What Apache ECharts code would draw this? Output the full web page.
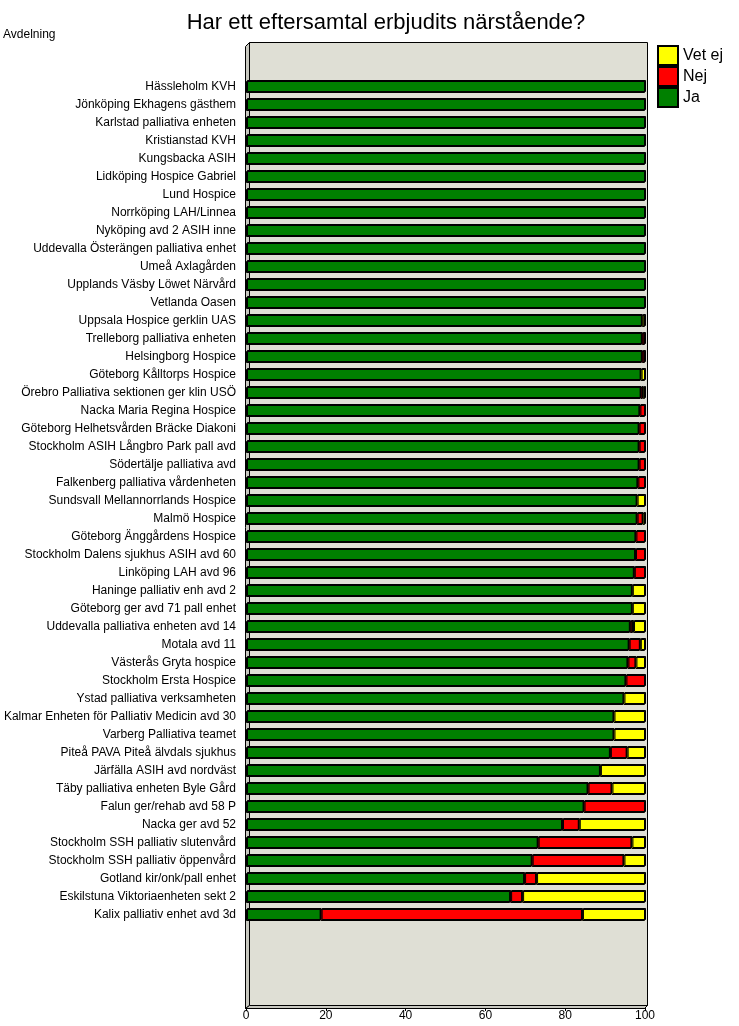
<!DOCTYPE html>
<html><head><meta charset="utf-8">
<script src="https://cdn.jsdelivr.net/npm/echarts@6/dist/echarts.min.js"></script>
<style>html,body{margin:0;padding:0;background:#fff}#c{width:739px;height:1026px}</style>
</head><body><div id="c"></div>
<script>
const categories = [
"Hässleholm KVH","Jönköping Ekhagens gästhem","Karlstad palliativa enheten","Kristianstad KVH",
"Kungsbacka ASIH","Lidköping Hospice Gabriel","Lund Hospice","Norrköping LAH/Linnea",
"Nyköping avd 2 ASIH inne","Uddevalla Österängen palliativa enhet","Umeå Axlagården",
"Upplands Väsby Löwet Närvård","Vetlanda Oasen","Uppsala Hospice gerklin UAS",
"Trelleborg palliativa enheten","Helsingborg Hospice","Göteborg Kålltorps Hospice",
"Örebro Palliativa sektionen ger klin USÖ","Nacka Maria Regina Hospice",
"Göteborg Helhetsvården Bräcke Diakoni","Stockholm ASIH Långbro Park pall avd",
"Södertälje palliativa avd","Falkenberg palliativa vårdenheten","Sundsvall Mellannorrlands Hospice",
"Malmö Hospice","Göteborg Änggårdens Hospice","Stockholm Dalens sjukhus ASIH avd 60",
"Linköping LAH avd 96","Haninge palliativ enh avd 2","Göteborg ger avd 71 pall enhet",
"Uddevalla palliativa enheten avd 14","Motala avd 11","Västerås Gryta hospice",
"Stockholm Ersta Hospice","Ystad palliativa verksamheten","Kalmar Enheten för Palliativ Medicin avd 30",
"Varberg Palliativa teamet","Piteå PAVA Piteå älvdals sjukhus","Järfälla ASIH avd nordväst",
"Täby palliativa enheten Byle Gård","Falun ger/rehab avd 58 P","Nacka ger avd 52",
"Stockholm SSH palliativ slutenvård","Stockholm SSH palliativ öppenvård","Gotland kir/onk/pall enhet",
"Eskilstuna Viktoriaenheten sekt 2","Kalix palliativ enhet avd 3d"];
const ja = [100,100,100,100,100,100,100,100,100,100,100,100,100,
99.2,99.2,99.2,98.9,98.9,98.6,98.4,98.4,98.4,98.1,97.9,97.9,97.6,97.5,97.2,96.7,96.7,96.2,95.9,95.6,95.1,94.6,
92.1,92.1,91.2,88.7,85.6,84.6,79.2,73.1,71.6,69.7,66.2,18.7];
const nej = [0,0,0,0,0,0,0,0,0,0,0,0,0,
0,0.8,0.8,0,0.55,1.4,1.6,1.6,1.6,1.9,0,1.5,2.4,2.5,2.8,0,0,0.8,2.8,2.0,4.9,0,
0,0,4.2,0,6.0,15.4,4.2,23.5,23.0,3.0,3.0,65.5];
const vetej = [0,0,0,0,0,0,0,0,0,0,0,0,0,
0.8,0,0,1.1,0.55,0,0,0,0,0,2.1,0.6,0,0,0,3.3,3.3,3.0,1.3,2.4,0,5.4,
7.9,7.9,4.6,11.3,8.4,0,16.6,3.4,5.4,27.3,30.8,15.8];
const xTicks = [0,20,40,60,80,100];
const seriesNames = ["Ja","Nej","Vet ej"];
const seriesColors = ["#008000","#ff0000","#ffff00"];

const chart = echarts.init(document.getElementById('c'));
const F = "'Liberation Sans', Arial, sans-serif";
const mk = (name, arr, color) => ({
  name, type: 'bar', stack: 'a', xAxisIndex: 0, yAxisIndex: 0,
  data: arr.map(v => v === 0 ? '-' : v),
  barWidth: 12,
  itemStyle: {color, borderColor: '#000', borderWidth: 1, shadowColor: '#000', shadowOffsetY: -1, shadowOffsetX: 1, shadowBlur: 0},
  emphasis: {disabled: true}, z: 5
});
chart.setOption({
  animation: false,
  textStyle: {fontFamily: F},
  title: {text: 'Har ett eftersamtal erbjudits närstående?', left: 381, textAlign: 'center', top: 7,
    textStyle: {fontFamily: F, fontSize: 22, fontWeight: 'normal', color: '#000'}},
  legend: {data: ['Vet ej','Nej','Ja'], orient: 'vertical', left: 657, top: 45, itemGap: 0, padding: 0,
    itemWidth: 20, itemHeight: 19, icon: 'rect', selectedMode: false,
    textStyle: {fontFamily: F, fontSize: 16, lineHeight: 20, color: '#000', padding: [0,0,0,0]}},
  graphic: [
    {type: 'text', left: 3, top: 29, z: 0, style: {text: 'Avdelning', font: "12px 'Liberation Sans', Arial", fill: '#000'}},
    {type: 'rect', z: -10, shape: {x: 249.5, y: 42.5, width: 398, height: 963}, style: {fill: '#dfdfd5', stroke: '#000', lineWidth: 1}},
    {type: 'polygon', z: -9, shape: {points: [[245.5,46.5],[249.5,42.5],[249.5,1005.5],[245.5,1008.5]]}, style: {fill: '#c8c8c0', stroke: '#000', lineWidth: 1}},
    {type: 'polygon', z: -9, shape: {points: [[245.5,1008.5],[249.5,1005.5],[647.5,1005.5],[644.5,1008.5]]}, style: {fill: '#c8c8c0', stroke: '#000', lineWidth: 1}}
  ],
  grid: [
    {left: 246, right: 94, top: 78, height: 846, containLabel: false},
    {left: 246, right: 94, top: 43, bottom: 18, containLabel: false}
  ],
  xAxis: [
    {type: 'value', gridIndex: 0, min: 0, max: 100, show: false},
    {type: 'value', gridIndex: 1, min: 0, max: 100, interval: 20,
      axisLine: {show: true, lineStyle: {color: '#000', width: 1}},
      axisTick: {show: true, length: 3, lineStyle: {color: '#000'}},
      splitLine: {show: false},
      axisLabel: {margin: 2, fontSize: 12, color: '#000', fontFamily: F,
        formatter: v => xTicks.includes(v) ? String(v) : ''}}
  ],
  yAxis: [
    {type: 'category', gridIndex: 0, data: categories, inverse: true,
      axisLine: {show: false}, axisTick: {show: false}, splitLine: {show: false},
      axisLabel: {margin: 10, fontSize: 12, color: '#000', fontFamily: F, interval: 0}},
    {type: 'value', gridIndex: 1, show: false}
  ],
  series: [mk(seriesNames[0], ja, seriesColors[0]), mk(seriesNames[1], nej, seriesColors[1]), mk(seriesNames[2], vetej, seriesColors[2])]
});
</script></body></html>
